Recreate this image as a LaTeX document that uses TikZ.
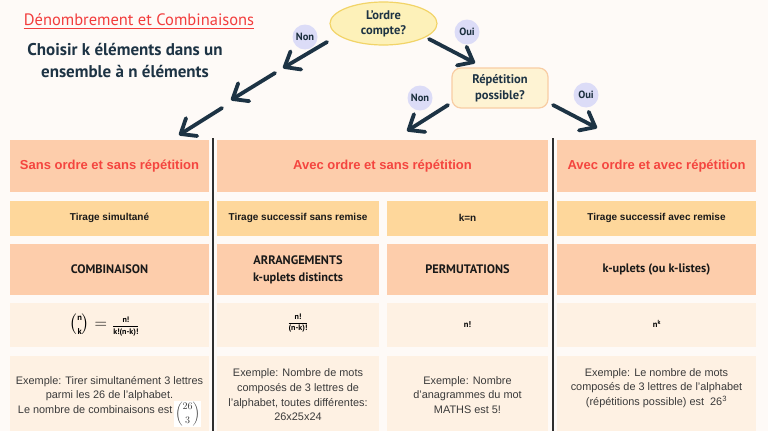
\documentclass[tikz,border=0pt]{standalone}
\usepackage{fontspec}
\usepackage{amsmath}
\setmainfont{Liberation Sans}
\newfontfamily\hand{PT Sans}
\usetikzlibrary{arrows.meta,shapes.geometric}
\definecolor{bg}{HTML}{FEFAF7}
\definecolor{peach}{HTML}{FDCDAB}
\definecolor{lorange}{HTML}{FED79B}
\definecolor{cream}{HTML}{FEF1E3}
\definecolor{navy}{HTML}{1D3344}
\definecolor{tred}{HTML}{F23D3D}
\definecolor{hred}{HTML}{F4453F}
\definecolor{lav}{HTML}{DCDCF7}
\definecolor{ellfill}{HTML}{FDF1B9}
\definecolor{elldraw}{HTML}{F2D468}
\definecolor{rrfill}{HTML}{FEF3D3}
\definecolor{rrdraw}{HTML}{F8CDA4}
\definecolor{vline}{HTML}{2E2E2E}
\definecolor{extxt}{HTML}{3A3A3A}
\begin{document}
\begin{tikzpicture}[x=1pt,y=-1pt,
  cellbox/.style={inner sep=0pt, outer sep=0pt, align=center},
  hdrbox/.style={cellbox, fill=peach, minimum height=52pt, text=hred, font=\fontsize{13}{15}\selectfont\bfseries},
  subbox/.style={cellbox, fill=lorange, minimum height=35pt, text=black!90, font=\fontsize{10}{12}\selectfont\bfseries},
  namebox/.style={cellbox, fill=peach, minimum height=51pt, text=black!90, font=\hand\bfseries\fontsize{12.3}{17}\selectfont},
  formulabox/.style={cellbox, fill=cream, minimum height=44pt, text=black},
  examplebox/.style={cellbox, fill=cream, minimum height=75pt, text=extxt, font=\fontsize{10.9}{14.7}\selectfont},
  answerbox/.style={circle, fill=lav, minimum size=25pt, inner sep=0pt, text=navy!90!black, font=\hand\bfseries\fontsize{10.5}{12}\selectfont},
  flowarrow/.style={navy, line width=3.8pt, line cap=round, -{Straight Barb[length=13pt,width=21pt,round]}},
  sepline/.style={vline, line width=2pt}
]
\useasboundingbox (0,0) rectangle (768,431);
\fill[bg] (0,0) rectangle (768,431);

% title
\node[inner sep=0pt, text=tred, font=\hand\fontsize{16.5}{18}\selectfont] (title) at (139,20) {Dénombrement et Combinaisons};
\draw[tred, line width=1.1pt] ([yshift=-2.5pt]title.base west) -- ([yshift=-2.5pt]title.base east);
\node[inner sep=0pt, align=center, text=navy, font=\hand\bfseries\fontsize{17}{22}\selectfont] (question) at (125,60) {Choisir k éléments dans un\\ensemble à n éléments};

% decision nodes
\node[ellipse, fill=ellfill, draw=elldraw, line width=1.2pt, minimum width=107pt, minimum height=43pt, inner sep=0pt, align=center, text=navy, font=\hand\bfseries\fontsize{12.5}{15}\selectfont] (ordre) at (383.5,23.5) {L’ordre\\compte?};
\node[rounded corners=9pt, fill=rrfill, draw=rrdraw, line width=1.2pt, minimum width=96pt, minimum height=40pt, inner sep=0pt, align=center, text=navy, font=\hand\bfseries\fontsize{12.5}{16}\selectfont] (repet) at (500,88) {Répétition\\possible?};

\node[answerbox] (non1) at (305,37) {Non};
\node[answerbox] (oui1) at (467,32) {Oui};
\node[answerbox] (non2) at (420,98) {Non};
\node[answerbox] (oui2) at (586,95) {Oui};

% arrow coordinates
\coordinate (a1s) at (327,42);  \coordinate (a1e) at (283,68);
\coordinate (a2s) at (275,73);  \coordinate (a2e) at (231,100);
\coordinate (a3s) at (222,108); \coordinate (a3e) at (179,135);
\coordinate (b1s) at (429,39);  \coordinate (b1e) at (475,63);
\coordinate (c1s) at (448,105); \coordinate (c1e) at (407,131);
\coordinate (d1s) at (553,105); \coordinate (d1e) at (597,128);

\draw[flowarrow] (a1s) -- (a1e);
\draw[flowarrow] (a2s) -- (a2e);
\draw[flowarrow] (a3s) -- (a3e);
\draw[flowarrow] (b1s) -- (b1e);
\draw[flowarrow] (c1s) -- (c1e);
\draw[flowarrow] (d1s) -- (d1e);

% row 1 headers
\node[hdrbox, minimum width=199pt] (h1) at (109.5,166) {Sans ordre et sans répétition};
\node[hdrbox, minimum width=331pt] (h2) at (382.5,166) {Avec ordre et sans répétition};
\node[hdrbox, minimum width=199pt] (h3) at (656.5,166) {Avec ordre et avec répétition};

% row 2
\node[subbox, minimum width=199pt] (s1) at (109.5,218) {Tirage simultané};
\node[subbox, minimum width=162pt] (s2) at (298,218) {Tirage successif sans remise};
\node[subbox, minimum width=161pt] (s3) at (467.5,218) {k=n};
\node[subbox, minimum width=199pt] (s4) at (656.5,218) {Tirage successif avec remise};

% row 3
\node[namebox, minimum width=199pt] (n1) at (109.5,269.5) {COMBINAISON};
\node[namebox, minimum width=162pt] (n2) at (298,269.5) {ARRANGEMENTS\\k-uplets distincts};
\node[namebox, minimum width=161pt] (n3) at (467.5,269.5) {PERMUTATIONS};
\node[namebox, minimum width=199pt] (n4) at (656.5,269.5) {k-uplets (ou k-listes)};

% row 4
\node[formulabox, minimum width=199pt] (f1) at (109.5,325) {};
\node[formulabox, minimum width=162pt] (f2) at (298,325) {};
\node[formulabox, minimum width=161pt] (f3) at (467.5,325) {};
\node[formulabox, minimum width=199pt] (f4) at (656.5,325) {};
\node[inner sep=0pt, font=\fontsize{18}{19}\selectfont] (ff1) at (104.5,325) {$\binom{\mbox{\hand\bfseries\fontsize{8.5}{8}\selectfont n}}{\mbox{\hand\bfseries\fontsize{8.5}{8}\selectfont k}} =$ {\fontsize{8}{8}\selectfont$\dfrac{\mbox{\hand\bfseries n!}}{\mbox{\hand\bfseries k!(n-k)!}}$}};
\node[inner sep=0pt, font=\fontsize{8}{8}\selectfont] (ff2) at (298,323) {$\dfrac{\mbox{\hand\bfseries n!}}{\mbox{\hand\bfseries (n-k)!}}$};
\node[inner sep=0pt, font=\hand\bfseries\fontsize{8.5}{9}\selectfont] (ff3) at (467.5,325) {n!};
\node[inner sep=0pt, font=\hand\bfseries\fontsize{8.5}{9}\selectfont] (ff4) at (657,324) {n\textsuperscript{k}};

% row 5
\node[examplebox, minimum width=199pt] (e1) at (109.5,393.5) {};
\node[examplebox, minimum width=162pt] (e2) at (298,393.5) {};
\node[examplebox, minimum width=161pt] (e3) at (467.5,393.5) {};
\node[examplebox, minimum width=199pt] (e4) at (656.5,393.5) {};
\node[inner sep=0pt, align=center, text=extxt, font=\fontsize{10.9}{14.7}\selectfont] (t1) at (109.5,395) {Exemple: Tirer simultanément 3 lettres\\parmi les 26 de l'alphabet.\\Le nombre de combinaisons est\,\raisebox{-3pt}[0pt][0pt]{\setlength{\fboxsep}{1pt}\colorbox{white}{\fontsize{10}{10}\selectfont$\dbinom{26}{3}$}}};
\node[inner sep=0pt, align=center, text=extxt, font=\fontsize{10.9}{14.7}\selectfont] (t2) at (298,395) {Exemple: Nombre de mots\\composés de 3 lettres de\\l'alphabet, toutes différentes:\\26x25x24};
\node[inner sep=0pt, align=center, text=extxt, font=\fontsize{10.9}{14.7}\selectfont] (t3) at (467.5,395) {Exemple: Nombre\\d'anagrammes du mot\\MATHS est 5!};
\node[inner sep=0pt, align=center, text=extxt, font=\fontsize{10.9}{14.7}\selectfont] (t4) at (656.5,388) {Exemple: Le nombre de mots\\composés de 3 lettres de l'alphabet\\(répétitions possible) est~~26\textsuperscript{3}};

% separators
\draw[sepline] (213,138) -- (213,431);
\draw[sepline] (552.5,138) -- (552.5,431);
\end{tikzpicture}
\end{document}
